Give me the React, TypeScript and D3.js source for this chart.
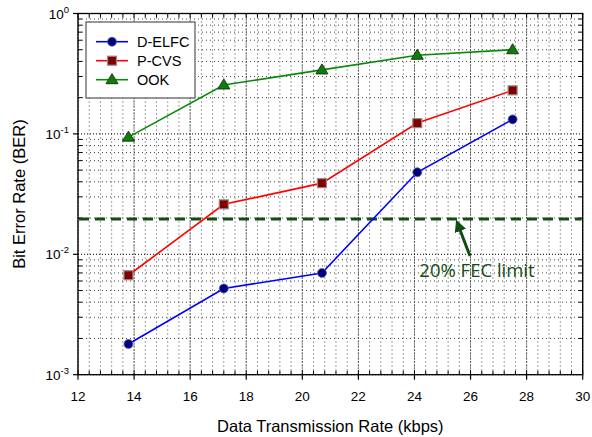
import React from "react";
import * as d3 from "d3";

const rates = [13.8, 17.2, 20.7, 24.1, 27.5];
const delfc = [0.0018, 0.0052, 0.007, 0.048, 0.132];
const pcvs = [0.0067, 0.026, 0.039, 0.123, 0.23];
const ook = [0.094, 0.255, 0.34, 0.45, 0.5];
const fecLimit = 0.0196;
const xTicks = [12, 14, 16, 18, 20, 22, 24, 26, 28, 30];
const yExps = [0, -1, -2, -3];
const seriesNames = ["D-ELFC", "P-CVS", "OOK"];

const W = 592, H = 437;
const L = 78, R = 582.7, T = 13.5, B = 374.7;

export default function App() {
  const x = d3.scaleLinear().domain([12, 30]).range([L, R]);
  const y = d3.scaleLog().domain([1e-3, 1]).range([B, T]);
  const line = d3.line<number>().x((_, i) => x(rates[i])).y((d) => y(d));

  const xMinor: number[] = d3.range(12, 30.001, 0.4).map((v) => +v.toFixed(2));
  const yMinor: number[] = [];
  for (let e = -3; e < 0; e++) for (let k = 2; k <= 9; k++) yMinor.push(k * Math.pow(10, e));

  const font = "'Liberation Sans', Arial, sans-serif";
  const series = [
    { name: seriesNames[0], data: delfc, color: "#0000ff", marker: "circle", fill: "#000080" },
    { name: seriesNames[1], data: pcvs, color: "#ff0000", marker: "square", fill: "#800000" },
    { name: seriesNames[2], data: ook, color: "#0a8a0a", marker: "tri", fill: "#0a800a" },
  ];

  const marker = (type: string, cx: number, cy: number, fill: string, key: any) => {
    if (type === "circle")
      return <circle key={key} cx={cx} cy={cy} r={4.5} fill={fill} stroke="#6a6a9a" strokeWidth={0.8} />;
    if (type === "square")
      return <rect key={key} x={cx - 4.5} y={cy - 4.5} width={9} height={9} fill={fill} stroke="#9a8a8a" strokeWidth={1.2} />;
    return (
      <path key={key} d={`M${cx},${cy - 6}L${cx + 6},${cy + 4}L${cx - 6},${cy + 4}Z`} fill={fill} stroke="#1a3a1a" strokeWidth={1} />
    );
  };

  const fy = y(fecLimit);

  return (
    <svg width={W} height={H} style={{ position: "absolute", left: 0, top: 0, background: "#fff" }} fontFamily={font}>
      <rect x={0} y={0} width={W} height={H} fill="#fff" />
      {/* grid */}
      {xMinor.map((v, i) => (
        <line key={"gx" + i} x1={x(v)} x2={x(v)} y1={T} y2={B} stroke="#444" strokeWidth={1} strokeDasharray="1,3" />
      ))}
      {xTicks.map((v, i) => (
        <line key={"gX" + i} x1={x(v)} x2={x(v)} y1={T} y2={B} stroke="#000" strokeWidth={1} strokeDasharray="1,2" />
      ))}
      {yMinor.map((v, i) => (
        <line key={"gy" + i} x1={L} x2={R} y1={y(v)} y2={y(v)} stroke="#444" strokeWidth={1} strokeDasharray="1,3" />
      ))}
      {yExps.map((e, i) => (
        <line key={"gY" + i} x1={L} x2={R} y1={y(Math.pow(10, e))} y2={y(Math.pow(10, e))} stroke="#000" strokeWidth={1} strokeDasharray="1,2" />
      ))}
      {/* frame */}
      <rect x={L} y={T} width={R - L} height={B - T} fill="none" stroke="#000" strokeWidth={1.3} />
      {/* ticks */}
      {xMinor.map((v, i) => (
        <g key={"tx" + i}>
          <line x1={x(v)} x2={x(v)} y1={B} y2={B - 4} stroke="#000" />
          <line x1={x(v)} x2={x(v)} y1={T} y2={T + 4} stroke="#000" />
        </g>
      ))}
      {xTicks.map((v, i) => (
        <g key={"tX" + i}>
          <line x1={x(v)} x2={x(v)} y1={B} y2={B + 5} stroke="#000" strokeWidth={1.2} />
          <text x={x(v)} y={401} textAnchor="middle" fontSize={13.5} fill="#000">{v}</text>
        </g>
      ))}
      {yMinor.map((v, i) => (
        <g key={"ty" + i}>
          <line x1={L} x2={L + 4} y1={y(v)} y2={y(v)} stroke="#000" />
          <line x1={R} x2={R - 4} y1={y(v)} y2={y(v)} stroke="#000" />
        </g>
      ))}
      {yExps.map((e, i) => (
        <g key={"tY" + i}>
          <line x1={L - 5} x2={L} y1={y(Math.pow(10, e))} y2={y(Math.pow(10, e))} stroke="#000" strokeWidth={1.2} />
          <text x={L - 9} y={y(Math.pow(10, e)) + 5} textAnchor="end" fontSize={13.5} fill="#000">
            10<tspan dy={-6} fontSize={9.5}>{e}</tspan>
          </text>
        </g>
      ))}
      {/* FEC limit */}
      <line x1={L + 1} x2={R - 1} y1={fy} y2={fy} stroke="#134d13" strokeWidth={3} strokeDasharray="10,6" />
      {/* series */}
      {series.map((s) => (
        <path key={s.name} d={line(s.data) || ""} fill="none" stroke={s.color} strokeWidth={1.6} />
      ))}
      {series.map((s) => s.data.map((d, i) => marker(s.marker, x(rates[i]), y(d), s.fill, s.name + i)))}
      {/* annotation arrow */}
      <defs>
        <marker id="ah" viewBox="0 0 10 10" refX={8} refY={5} markerWidth={4} markerHeight={4} orient="auto">
          <path d="M0,0L10,5L0,10Z" fill="#134d13" />
        </marker>
      </defs>
      <line x1={470} y1={256} x2={457} y2={222} stroke="#134d13" strokeWidth={3} markerEnd="url(#ah)" />
      <text x={477} y={277} textAnchor="middle" fontSize={18.5} fill="#134d13" fontFamily="'Open Sans', 'Liberation Sans', sans-serif">
        20% FEC limit
      </text>
      {/* legend */}
      <rect x={86} y={22} width={109} height={76} fill="#fff" stroke="#333" strokeWidth={1} />
      {series.map((s, i) => {
        const ly = 41.7 + i * 19;
        return (
          <g key={"lg" + i}>
            <line x1={96} x2={128} y1={ly} y2={ly} stroke={s.color} strokeWidth={1.6} />
            {marker(s.marker, 112, ly, s.fill, "lm" + i)}
            <text x={137} y={ly + 5} fontSize={14.5} fill="#000">{s.name}</text>
          </g>
        );
      })}
      {/* axis titles */}
      <text x={(L + R) / 2} y={432} textAnchor="middle" fontSize={16.5} fill="#000">Data Transmission Rate (kbps)</text>
      <text transform={`translate(25,${(T + B) / 2}) rotate(-90)`} textAnchor="middle" fontSize={16.5} fill="#000">Bit Error Rate (BER)</text>
    </svg>
  );
}
